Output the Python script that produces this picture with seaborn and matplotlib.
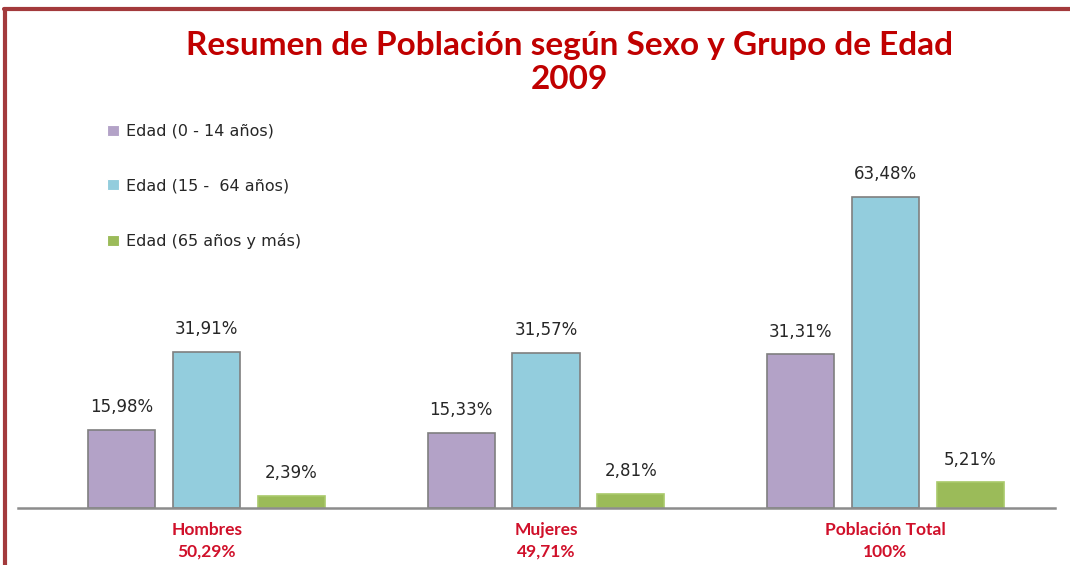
import pandas as pd
import matplotlib
matplotlib.use("Agg")
import matplotlib.pyplot as plt
import seaborn as sns
from matplotlib.lines import Line2D

# datos
grupos = ['Hombres', 'Mujeres', 'Población Total']
grupos_pct = ['50,29%', '49,71%', '100%']
edades = ['Edad (0 - 14 años)', 'Edad (15 -  64 años)', 'Edad (65 años y más)']
edad_0_14 = [15.98, 15.33, 31.31]
edad_15_64 = [31.91, 31.57, 63.48]
edad_65 = [2.39, 2.81, 5.21]

colores = ['#B3A2C7', '#93CDDD', '#9BBB59']
bordes = ['#7F7F7F', '#7F7F7F', '#A9C96A']
rojo = '#C00000'

filas = []
for serie, valores in zip(edades, [edad_0_14, edad_15_64, edad_65]):
    for g, v in zip(grupos, valores):
        filas.append({'grupo': g, 'edad': serie, 'valor': v})
df = pd.DataFrame(filas)

sns.set_style("white")
plt.rcParams['font.family'] = ['DejaVu Sans']

fig = plt.figure(figsize=(10.7, 5.65), dpi=100)
ax = fig.add_axes([0.0168, 0.1009, 0.9692, 0.6336])

sns.barplot(data=df, x='grupo', y='valor', hue='edad', hue_order=edades,
            order=grupos, palette=colores, saturation=1, width=0.75, gap=0.21,
            linewidth=1.2, ax=ax)

for cont, borde in zip(ax.containers, bordes):
    for p in cont:
        p.set_edgecolor(borde)
    ax.bar_label(cont, labels=[f'{v:.2f}%'.replace('.', ',') for v in cont.datavalues],
                 padding=10, fontsize=12, color='#262626')

ax.set_xlim(-0.556, 2.5)
ax.set_ylim(0, 73)
ax.set_xlabel('')
ax.set_ylabel('')
ax.set_yticks([])
ax.set_xticks(range(len(grupos)))
ax.set_xticklabels([f'{g}\n{p}' for g, p in zip(grupos, grupos_pct)],
                   color='#D0102A', fontsize=12.5, fontweight='bold',
                   family=['Lato', 'DejaVu Sans'], linespacing=1.45)
ax.tick_params(axis='x', length=0, pad=10)
for lado in ['top', 'right', 'left']:
    ax.spines[lado].set_visible(False)
ax.spines['bottom'].set_color('#8C8C8C')
ax.spines['bottom'].set_linewidth(1.8)

# leyenda
handles, labels = ax.get_legend_handles_labels()
leg = fig.legend(handles, labels, loc='upper left', bbox_to_anchor=(0.087, 0.806),
                 frameon=False, fontsize=11.5, labelspacing=2.47,
                 handlelength=0.7, handleheight=0.7, handletextpad=0.45)
ax.get_legend().remove()
for h in leg.legend_handles:
    h.set_linewidth(0.8)

# titulo
fig.text(0.532, 0.89, 'Resumen de Población según Sexo y Grupo de Edad\n2009',
         ha='center', va='center', color=rojo, fontsize=24, fontweight='bold',
         family=['Lato', 'DejaVu Sans'], linespacing=1.22)

# marco
fig.add_artist(Line2D([0.004, 1.0], [0.984, 0.984], color='#A33A3C', lw=3))
fig.add_artist(Line2D([0.005, 0.005], [0.0, 0.984], color='#A33A3C', lw=3))

plt.savefig('out.png', dpi=100)
